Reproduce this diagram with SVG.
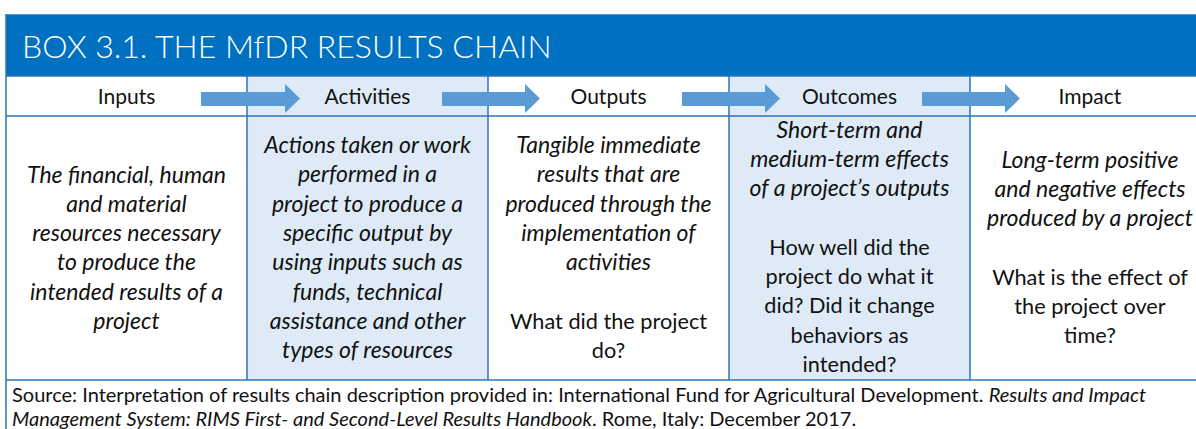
<svg xmlns="http://www.w3.org/2000/svg" width="1196" height="429" viewBox="0 0 1196 429">
<style>
.bg{fill:#ffffff}
.shade{fill:#DEEBF7}
.grid{stroke:#2E75B6;stroke-width:1.5;fill:none}
.hdr{fill:#0070C0}
.title{font-family:Lato,"Liberation Sans",sans-serif;font-weight:300;font-size:32px;fill:#ffffff}
.lbl{font-family:Lato,"Liberation Sans",sans-serif;font-size:21px;fill:#111111;text-anchor:middle}
.it{font-family:Lato,"Liberation Sans",sans-serif;font-size:23px;font-style:italic;fill:#111111;text-anchor:middle}
.q{font-family:Lato,"Liberation Sans",sans-serif;font-size:21.7px;fill:#111111;text-anchor:middle}
.src{font-family:Lato,"Liberation Sans",sans-serif;font-size:20px;fill:#111111}
.arr{fill:#5B9BD5}
</style>
<rect class="bg" x="0" y="0" width="1196" height="429"/>
<g id="header">
<rect class="hdr" x="6" y="14" width="1190" height="62"/>
<line x1="6" y1="14.5" x2="1196" y2="14.5" stroke="#5B9BD5" stroke-width="1"/>
<text class="title" x="22" y="58">BOX 3.1. THE MfDR RESULTS CHAIN</text>
</g>
<g id="col-inputs">
<text class="lbl" x="126.5" y="104">Inputs</text>
<text class="it" x="126.5" y="183">The financial, human</text>
<text class="it" x="126.5" y="212">and material</text>
<text class="it" x="126.5" y="241">resources necessary</text>
<text class="it" x="126.5" y="270">to produce the</text>
<text class="it" x="126.5" y="300">intended results of a</text>
<text class="it" x="126.5" y="329">project</text>
</g>
<g id="col-activities">
<rect class="shade" x="247" y="76" width="241" height="304"/>
<text class="lbl" x="367.5" y="104">Activities</text>
<text class="it" x="367.5" y="153">Actions taken or work</text>
<text class="it" x="367.5" y="182">performed in a</text>
<text class="it" x="367.5" y="212">project to produce a</text>
<text class="it" x="367.5" y="241">specific output by</text>
<text class="it" x="367.5" y="270">using inputs such as</text>
<text class="it" x="367.5" y="300">funds, technical</text>
<text class="it" x="367.5" y="329">assistance and other</text>
<text class="it" x="367.5" y="358">types of resources</text>
</g>
<g id="col-outputs">
<text class="lbl" x="608.5" y="104">Outputs</text>
<text class="it" x="608.5" y="153">Tangible immediate</text>
<text class="it" x="608.5" y="182">results that are</text>
<text class="it" x="608.5" y="212">produced through the</text>
<text class="it" x="608.5" y="241">implementation of</text>
<text class="it" x="608.5" y="270">activities</text>
<text class="q" x="608.5" y="329">What did the project</text>
<text class="q" x="608.5" y="358">do?</text>
</g>
<g id="col-outcomes">
<rect class="shade" x="729" y="76" width="241" height="304"/>
<text class="lbl" x="849.5" y="104">Outcomes</text>
<text class="it" x="849.5" y="138">Short-term and</text>
<text class="it" x="849.5" y="167">medium-term effects</text>
<text class="it" x="849.5" y="196">of a project’s outputs</text>
<text class="q" x="849.5" y="255">How well did the</text>
<text class="q" x="849.5" y="284">project do what it</text>
<text class="q" x="849.5" y="313">did? Did it change</text>
<text class="q" x="849.5" y="343">behaviors as</text>
<text class="q" x="849.5" y="372">intended?</text>
</g>
<g id="col-impact">
<text class="lbl" x="1090" y="104">Impact</text>
<text class="it" x="1090" y="168">Long-term positive</text>
<text class="it" x="1090" y="197">and negative effects</text>
<text class="it" x="1090" y="226">produced by a project</text>
<text class="q" x="1090" y="285">What is the effect of</text>
<text class="q" x="1090" y="314">the project over</text>
<text class="q" x="1090" y="343">time?</text>
</g>
<g id="grid">
<line class="grid" x1="6" y1="14" x2="6" y2="429"/>
<line class="grid" x1="6" y1="76" x2="1196" y2="76"/>
<line class="grid" x1="6" y1="116" x2="1196" y2="116"/>
<line class="grid" x1="6" y1="380" x2="1196" y2="380"/>
<line class="grid" x1="247" y1="76" x2="247" y2="380"/>
<line class="grid" x1="488" y1="76" x2="488" y2="380"/>
<line class="grid" x1="729" y1="76" x2="729" y2="380"/>
<line class="grid" x1="970" y1="76" x2="970" y2="380"/>
</g>
<g id="connectors">
<polygon class="arr" points="201,92 285,92 285,84 300,98.5 285,113 285,106 201,106"/>
<polygon class="arr" points="442,92 525,92 525,84 540,98.5 525,113 525,106 442,106"/>
<polygon class="arr" points="682,92 765,92 765,84 780,98.5 765,113 765,106 682,106"/>
<polygon class="arr" points="922,92 1005,92 1005,84 1020,98.5 1005,113 1005,106 922,106"/>
</g>
<g id="source">
<text class="src" x="12" y="402">Source: Interpretation of results chain description provided in: International Fund for Agricultural Development. <tspan font-style="italic">Results and Impact</tspan></text>
<text class="src" x="12" y="426"><tspan font-style="italic">Management System: RIMS First- and Second-Level Results Handbook</tspan>. Rome, Italy: December 2017.</text>
</g>
</svg>
